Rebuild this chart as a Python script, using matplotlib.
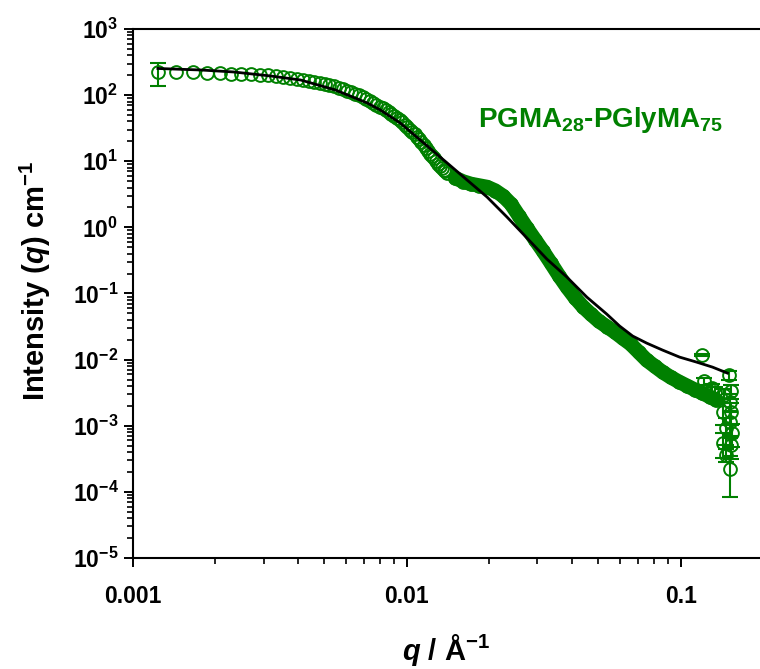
import matplotlib
matplotlib.use('Agg')
import matplotlib.pyplot as plt
from matplotlib import ticker

plt.rcParams['font.family'] = ['Liberation Sans', 'DejaVu Sans']
plt.rcParams['font.weight'] = 'bold'
plt.rcParams['mathtext.fontset'] = 'custom'
plt.rcParams['mathtext.rm'] = 'Liberation Sans:bold'
plt.rcParams['mathtext.bf'] = 'Liberation Sans:bold'
plt.rcParams['mathtext.it'] = 'Liberation Sans:italic:bold'
plt.rcParams['mathtext.default'] = 'rm'

# SAXS data, low q (points spread out, visible as separate circles)
q_low = [0.00123, 0.00144, 0.00165, 0.00186, 0.00207, 0.00228, 0.00249, 0.00270,
         0.00291, 0.00312, 0.00333, 0.00354, 0.00375, 0.00396, 0.00417, 0.00438,
         0.00459, 0.00480, 0.00501, 0.00522, 0.00543, 0.00564, 0.00585, 0.00606,
         0.00627, 0.00648, 0.00669, 0.00690, 0.00711, 0.00732, 0.00753, 0.00774,
         0.00795, 0.00816, 0.00837, 0.00858, 0.00879, 0.00900, 0.00921, 0.00942,
         0.00963, 0.00984, 0.01005, 0.01026, 0.01047, 0.01068, 0.01089, 0.01110,
         0.01131, 0.01152, 0.01173, 0.01194, 0.01215, 0.01236, 0.01257, 0.01278,
         0.01299, 0.01320, 0.01341, 0.01362, 0.01383, 0.01404]
i_low = [220, 220, 220, 216, 216, 212, 208.5, 205, 201, 198,
         192.5, 186.6, 181.5, 175, 170, 165, 159, 153.5, 147, 141,
         135, 129, 123, 116.6, 110, 104.6, 99, 93, 87.3, 82.3,
         77, 71.8, 67, 63, 59, 55.5, 52.1, 48.6, 45.5, 42.6,
         39.2, 35.8, 32.8, 30.1, 27.7, 25.4, 23.2, 21.7, 19.5, 17.6,
         15.8, 14.3, 12.9, 12.0, 11.0, 10.07, 9.23, 8.61, 8.03, 7.49,
         7.03, 6.63]
first_err = 85

# dense part of the curve (solid band)
q_band = [0.01502, 0.01606, 0.01718, 0.01837, 0.01965, 0.02101, 0.02247, 0.02403,
          0.02570, 0.02748, 0.02938, 0.03143, 0.03360, 0.03594, 0.03843, 0.04110,
          0.04395, 0.04699, 0.05026, 0.05374, 0.05749, 0.06146, 0.06574, 0.07031,
          0.07518, 0.08038, 0.08598, 0.09196, 0.09833, 0.1052, 0.1125, 0.1202,
          0.1286, 0.1352]
i_band = [5.57, 4.93, 4.52, 4.29, 4.07, 3.60, 2.98, 2.25, 1.48, 0.976,
          0.654, 0.438, 0.288, 0.1866, 0.125, 0.0867, 0.0633, 0.0488, 0.0382, 0.0316,
          0.0261, 0.0211, 0.01716, 0.01299, 0.00983, 0.00797, 0.00647, 0.00543, 0.00465, 0.00404,
          0.00352, 0.00311, 0.00271, 0.00244]

# noisy high q tail
q_tail = [0.1193, 0.1213, 0.1297, 0.1341, 0.1446, 0.1434, 0.1459, 0.1434, 0.1459,
          0.1505, 0.1525, 0.1515, 0.1530, 0.1520, 0.1535, 0.1525, 0.1520]
i_tail = [0.0117, 0.00473, 0.00371, 0.00322, 0.00290, 0.00161, 0.00092, 0.000546, 0.000359,
          0.00583, 0.00337, 0.00230, 0.00162, 0.00115, 0.00078, 0.00051, 0.000218]
err_tail = [0.0005, 0.0006, 0.0006, 0.0006, 0.0007, 0.0006, 0.0004, 0.00022, 0.00008,
            0.0009, 0.0008, 0.0007, 0.0006, 0.0005, 0.0003, 0.0002, 0.000135]

# model fit
q_fit = [0.001233, 0.001769, 0.002332, 0.003182, 0.004093, 0.005489, 0.007181, 0.008009,
         0.009469, 0.0112, 0.01405, 0.01661, 0.01965, 0.02323, 0.02748, 0.03249,
         0.03843, 0.04545, 0.05374, 0.05993, 0.06684, 0.07518, 0.08598, 0.09918,
         0.1144, 0.1308, 0.1483]
i_fit = [252.6, 239.7, 223.7, 194.5, 169.2, 119.4, 75.9, 59.5,
         37.8, 20.9, 9.39, 5.19, 2.87, 1.43, 0.689, 0.331,
         0.177, 0.0882, 0.0488, 0.0321, 0.0227, 0.01777, 0.01392, 0.01091,
         0.00917, 0.0077, 0.00625]

x_ticks = [0.001, 0.01, 0.1]
x_tick_labels = ['0.001', '0.01', '0.1']

green = '#008000'
mk = dict(marker='o', ms=9.2, mfc='none', mec=green, mew=1.4, ls='none')

fig = plt.figure(figsize=(7.6, 6.69), dpi=100)
ax = fig.add_axes([0.175, 0.1659, 0.825, 0.7908])

# data
ax.plot(q_low, i_low, **mk, zorder=3)
ax.errorbar(q_low[:1], i_low[:1], yerr=[first_err], fmt='none', ecolor=green,
            elinewidth=1.5, capsize=5.5, capthick=1.5, zorder=3)
ax.plot(q_band, i_band, color=green, lw=10.5, solid_capstyle='round', zorder=3)
ax.plot(q_band, i_band, **mk, zorder=3)
ax.errorbar(q_tail, i_tail, yerr=err_tail, fmt='none', ecolor=green,
            elinewidth=1.5, capsize=5.5, capthick=1.5, zorder=3)
ax.plot(q_tail, i_tail, **mk, zorder=3)

# fit
ax.plot(q_fit, i_fit, color='black', lw=2, zorder=4)

ax.set_xscale('log')
ax.set_yscale('log')
ax.set_xlim(0.001, 0.195)
ax.set_ylim(1e-5, 1e3)

ax.xaxis.set_major_locator(ticker.FixedLocator(x_ticks))
ax.xaxis.set_major_formatter(ticker.FixedFormatter(x_tick_labels))
ax.xaxis.set_minor_locator(ticker.LogLocator(base=10, subs=[2, 3, 4, 5, 6, 7, 8, 9], numticks=20))
ax.xaxis.set_minor_formatter(ticker.NullFormatter())
ax.yaxis.set_major_locator(ticker.LogLocator(base=10, numticks=20))
ax.yaxis.set_minor_locator(ticker.LogLocator(base=10, subs=[2, 3, 4, 5, 6, 7, 8, 9], numticks=20))
ax.yaxis.set_minor_formatter(ticker.NullFormatter())

ax.tick_params(which='major', direction='out', length=6.5, width=1.4, labelsize=16.5)
ax.tick_params(which='minor', direction='out', length=4.5, width=1.2)
ax.tick_params(axis='x', which='major', pad=13)
ax.tick_params(axis='y', which='major', pad=4)
ax.tick_params(top=False, right=False, which='both')

for s in ['left', 'bottom', 'top']:
    ax.spines[s].set_linewidth(1.5)
ax.spines['right'].set_visible(False)

ax.set_ylabel(r'Intensity ($\mathit{q}$) cm$^{-1}$', fontsize=21, fontweight='bold', va='center')
ax.yaxis.set_label_coords(-0.155, 0.524)
ax.set_xlabel(r'$\mathit{q}$ / Å$^{-1}$', fontsize=21, fontweight='bold', va='baseline')
ax.xaxis.set_label_coords(0.5, -0.192)

ax.text(0.55, 0.815, 'PGMA$_{28}$-PGlyMA$_{75}$', transform=ax.transAxes,
        color=green, fontsize=20, fontweight='bold', va='baseline', ha='left')

fig.savefig('out.png', dpi=100)
